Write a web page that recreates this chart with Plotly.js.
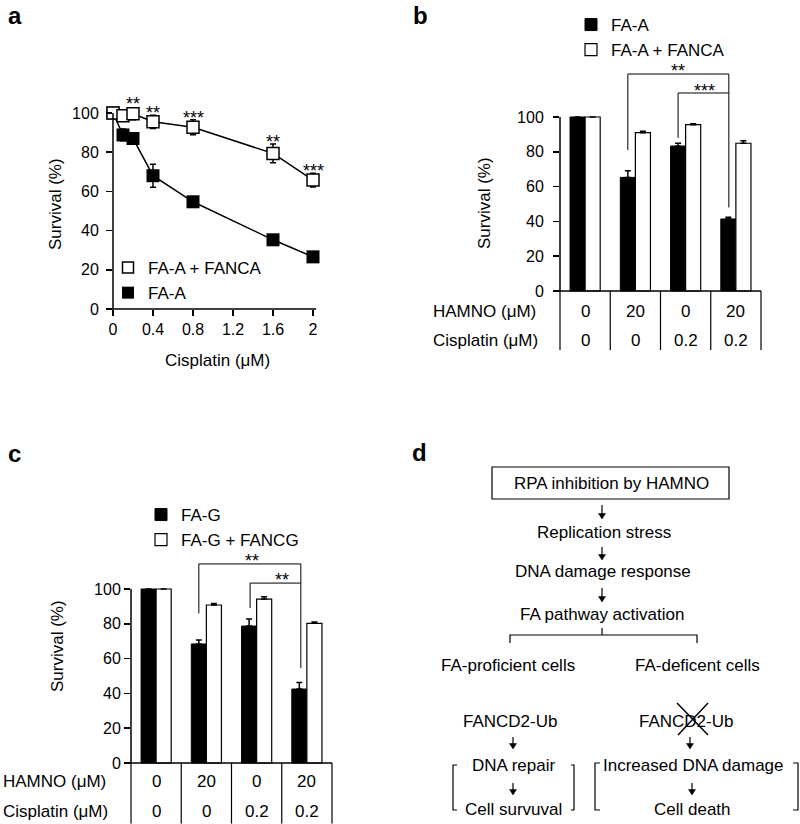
<!DOCTYPE html>
<html><head><meta charset="utf-8">
<script src="https://cdn.plot.ly/plotly-3.0.1.min.js"></script>
<style>html,body{margin:0;padding:0;background:#fff}#chart{width:800px;height:824px}</style>
</head><body><div id="chart"></div>
<script>
// ---------- DATA ----------
// Panel a: survival vs cisplatin dose
const doseA = [0, 0.1, 0.2, 0.4, 0.8, 1.6, 2];
const survFANCA_a = [100, 98.6, 99.6, 95.5, 92.7, 79.4, 65.8];
const errFANCA_a = [0, 1.5, 3, 3.4, 3.8, 4.8, 3.5];
const survFAA_a = [100, 88.8, 87, 68, 54.7, 35.3, 26.6];
const errFAA_a = [0, 3, 2, 5.9, 2, 2, 1.5];
const sigDoseA = [0.2, 0.4, 0.8, 1.6, 2];
const sigYA = [104.6, 99.8, 97.3, 85, 70.6];
const sigLabelA = ['**', '**', '***', '**', '***'];
const xTicksA = [0, 0.4, 0.8, 1.2, 1.6, 2];
const xTickTextA = ['0', '0.4', '0.8', '1.2', '1.6', '2'];
const yTicks = [0, 20, 40, 60, 80, 100];

// Panels b and c: four treatment groups
const groupIdx = [0, 1, 2, 3];
const hamno = ['0', '20', '0', '20'];
const cisplatin = ['0', '0', '0.2', '0.2'];
// Panel b
const survFAA_b = [100, 65.3, 83.3, 41.4];
const errFAA_b = [0, 3.8, 1.6, 1];
const survFANCA_b = [100, 91, 95.6, 84.9];
const errFANCA_b = [0, 0.8, 0.5, 1.5];
// Panel c
const survFAG_c = [100, 68.4, 78.7, 42.5];
const errFAG_c = [0, 2.3, 4, 3.7];
const survFANCG_c = [100, 90.8, 94.2, 80.3];
const errFANCG_c = [0, 0.9, 1.4, 0.7];

// ---------- HELPERS ----------
const F = 'Liberation Sans, Arial, Helvetica, sans-serif';
const W = 800, H = 824;
const px = x => x / W;
const py = y => 1 - y / H;
function dom(p0, v0, p1, v1, lo, hi, vertical) {
  const k = (p1 - p0) / (v1 - v0);
  const a = p0 + (lo - v0) * k, b = p0 + (hi - v0) * k;
  return vertical ? [py(a), py(b)] : [px(a), px(b)];
}
const zeros = arr => arr.map(() => 0);

const axBase = {
  showline: false, showgrid: false, zeroline: false, fixedrange: true,
  ticks: 'outside', ticklen: 6, tickwidth: 1.5, tickcolor: '#000',
  tickfont: {family: F, size: 16, color: '#000'}
};
const black = '#000';

// ranges
const xRangeA = [0, 2.03], yRangeA = [0, 112];
const xRangeB = [-0.5, 3.5], yRangeB = [-34, 135];
const xRangeC = [-0.5, 3.5], yRangeC = [-34.9, 125];

// ---------- TRACES ----------
const traces = [];
// panel a
traces.push({type: 'scatter', x: doseA, y: survFAA_a, mode: 'lines+markers', xaxis: 'x', yaxis: 'y',
  line: {color: black, width: 1.5}, marker: {symbol: 'square', size: 13, color: black},
  error_y: {type: 'data', array: errFAA_a, color: black, thickness: 1.5, width: 3},
  cliponaxis: false, showlegend: false, name: 'FA-A'});
traces.push({type: 'scatter', x: doseA, y: survFANCA_a, mode: 'lines+markers', xaxis: 'x', yaxis: 'y',
  line: {color: black, width: 1.5}, marker: {symbol: 'square', size: 12, color: '#fff', line: {color: black, width: 1.5}},
  error_y: {type: 'data', array: errFANCA_a, color: black, thickness: 1.5, width: 3},
  cliponaxis: false, showlegend: false, name: 'FA-A + FANCA'});
// legend-only entries for panel a (marker only)
traces.push({type: 'scatter', x: [null], y: [null], mode: 'markers', xaxis: 'x', yaxis: 'y', legend: 'legend',
  marker: {symbol: 'square', size: 11, color: '#fff', line: {color: black, width: 1.5}}, name: 'FA-A + FANCA'});
traces.push({type: 'scatter', x: [null], y: [null], mode: 'markers', xaxis: 'x', yaxis: 'y', legend: 'legend',
  marker: {symbol: 'square', size: 12, color: black}, name: 'FA-A'});
// panel b
traces.push({type: 'bar', x: groupIdx, y: survFAA_b, xaxis: 'x2', yaxis: 'y2', legend: 'legend2', name: 'FA-A',
  marker: {color: black, line: {color: black, width: 1}},
  error_y: {type: 'data', symmetric: false, array: errFAA_b, arrayminus: zeros(errFAA_b), color: black, thickness: 1.5, width: 3}});
traces.push({type: 'bar', x: groupIdx, y: survFANCA_b, xaxis: 'x2', yaxis: 'y2', legend: 'legend2', name: 'FA-A + FANCA',
  marker: {color: '#fff', line: {color: black, width: 1.2}},
  error_y: {type: 'data', symmetric: false, array: errFANCA_b, arrayminus: zeros(errFANCA_b), color: black, thickness: 1.5, width: 3}});
// panel c
traces.push({type: 'bar', x: groupIdx, y: survFAG_c, xaxis: 'x3', yaxis: 'y3', legend: 'legend3', name: 'FA-G',
  marker: {color: black, line: {color: black, width: 1}},
  error_y: {type: 'data', symmetric: false, array: errFAG_c, arrayminus: zeros(errFAG_c), color: black, thickness: 1.5, width: 3}});
traces.push({type: 'bar', x: groupIdx, y: survFANCG_c, xaxis: 'x3', yaxis: 'y3', legend: 'legend3', name: 'FA-G + FANCG',
  marker: {color: '#fff', line: {color: black, width: 1.2}},
  error_y: {type: 'data', symmetric: false, array: errFANCG_c, arrayminus: zeros(errFANCG_c), color: black, thickness: 1.5, width: 3}});

// ---------- SHAPES & ANNOTATIONS ----------
const shapes = [];
const ann = [];
const lineStyle = (w) => ({color: black, width: w || 1.5});
const txt = (o) => Object.assign({showarrow: false, xanchor: 'center', yanchor: 'middle'}, o);

// axis lines
shapes.push({type: 'line', xref: 'x domain', yref: 'y', x0: 0, x1: 0, y0: 0, y1: 100, line: lineStyle(1.5)});
shapes.push({type: 'line', xref: 'x domain', yref: 'y domain', x0: -0.025, x1: 1, y0: 0, y1: 0, line: lineStyle(1.5)});
shapes.push({type: 'line', xref: 'x2 domain', yref: 'y2', x0: 0, x1: 0, y0: 0, y1: 100, line: lineStyle(1.5)});
shapes.push({type: 'line', xref: 'x2 domain', yref: 'y2', x0: -0.025, x1: 1, y0: 0, y1: 0, line: lineStyle(1.5)});
shapes.push({type: 'line', xref: 'x3 domain', yref: 'y3', x0: 0, x1: 0, y0: 0, y1: 100, line: lineStyle(1.5)});
shapes.push({type: 'line', xref: 'x3 domain', yref: 'y3', x0: -0.025, x1: 1, y0: 0, y1: 0, line: lineStyle(1.5)});

// table dividers b/c
for (let k = 0; k <= 4; k++) {
  shapes.push({type: 'line', xref: 'x2 domain', yref: 'y2', x0: k / 4, x1: k / 4, y0: 0, y1: -34, line: lineStyle(1.2)});
  shapes.push({type: 'line', xref: 'x3 domain', yref: 'y3', x0: k / 4, x1: k / 4, y0: 0, y1: -34.9, line: lineStyle(1.2)});
}

// significance brackets
function bracket(xr, yr, xa, xb, ya, yb, ytop, label, lx, ly) {
  shapes.push({type: 'path', xref: xr, yref: yr,
    path: `M ${xa},${ya} L ${xa},${ytop} L ${xb},${ytop}` + (yb !== null ? ` L ${xb},${yb}` : ''),
    line: {color: black, width: 1}});
  ann.push(txt({xref: xr, yref: yr, x: lx, y: ly, text: label, font: {family: F, size: 18, color: black}}));
}
bracket('x2', 'y2', 0.85, 2.86, 81, 48, 124.7, '**', 1.85, 126.4);
bracket('x2', 'y2', 1.85, 2.86, 88, null, 113.8, '***', 2.37, 114.9);
bracket('x3', 'y3', 0.85, 2.88, 86, 54.6, 114.4, '**', 1.91, 116.1);
bracket('x3', 'y3', 1.87, 2.88, 89, null, 103.4, '**', 2.5, 105.2);

// significance in panel a
sigDoseA.forEach((d, i) => ann.push(txt({xref: 'x', yref: 'y', x: d, y: sigYA[i], text: sigLabelA[i],
  font: {family: F, size: 18, color: black}})));

// table text
const tf = {family: F, size: 17, color: black};
groupIdx.forEach(i => {
  ann.push(txt({xref: 'x2', yref: 'y2', x: i, y: -11.5, text: hamno[i], font: tf}));
  ann.push(txt({xref: 'x2', yref: 'y2', x: i, y: -28.2, text: cisplatin[i], font: tf}));
  ann.push(txt({xref: 'x3', yref: 'y3', x: i, y: -10.9, text: hamno[i], font: tf}));
  ann.push(txt({xref: 'x3', yref: 'y3', x: i, y: -27.6, text: cisplatin[i], font: tf}));
});
ann.push(txt({xref: 'paper', yref: 'y2', x: px(431), y: -11.5, xanchor: 'left', text: 'HAMNO (μM)', font: tf}));
ann.push(txt({xref: 'paper', yref: 'y2', x: px(431), y: -28.2, xanchor: 'left', text: 'Cisplatin (μM)', font: tf}));
ann.push(txt({xref: 'paper', yref: 'y3', x: px(1), y: -10.9, xanchor: 'left', text: 'HAMNO (μM)', font: tf}));
ann.push(txt({xref: 'paper', yref: 'y3', x: px(1), y: -27.6, xanchor: 'left', text: 'Cisplatin (μM)', font: tf}));

// axis titles
ann.push(txt({xref: 'paper', yref: 'paper', x: px(55), y: py(204), text: 'Survival (%)', textangle: -90, font: tf}));
ann.push(txt({xref: 'paper', yref: 'paper', x: px(217), y: py(360), text: 'Cisplatin (μM)', font: tf}));
ann.push(txt({xref: 'paper', yref: 'paper', x: px(485), y: py(203), text: 'Survival (%)', textangle: -90, font: tf}));
ann.push(txt({xref: 'paper', yref: 'paper', x: px(57), y: py(646), text: 'Survival (%)', textangle: -90, font: tf}));

// panel letters
const lf = {family: F, size: 24, color: black};
[['a', 6, 15], ['b', 411, 15], ['c', 6, 453], ['d', 410, 452]].forEach(([t, x, y]) =>
  ann.push(txt({xref: 'paper', yref: 'paper', x: px(x), y: py(y), xanchor: 'left', text: '<b>' + t + '</b>', font: lf})));

// ---------- PANEL d: flowchart ----------
function ptext(t, x, y) { ann.push(txt({xref: 'paper', yref: 'paper', x: px(x), y: py(y), text: t, font: tf})); }
function ppath(pts, w, fill) {
  const s = {type: 'path', xref: 'paper', yref: 'paper',
    path: pts.map((p, i) => (i ? 'L ' : 'M ') + px(p[0]) + ',' + py(p[1])).join(' ') + (fill ? ' Z' : ''),
    line: {color: black, width: w || 1.2}};
  if (fill) s.fillcolor = black;
  shapes.push(s);
}
function parrow(x, y0, y1) {
  ppath([[x, y0], [x, y1 - 4]], 1.2);
  ppath([[x - 3.5, y1 - 5.5], [x + 3.5, y1 - 5.5], [x, y1]], 0.5, true);
}
shapes.push({type: 'rect', xref: 'paper', yref: 'paper', x0: px(492), x1: px(729), y0: py(467), y1: py(499), line: {color: black, width: 1.2}});
ptext('RPA inhibition by HAMNO', 611, 484);
parrow(602, 505, 519);
ptext('Replication stress', 604, 532);
parrow(602, 547, 560);
ptext('DNA damage response', 603, 571);
parrow(602, 588, 602);
ptext('FA pathway activation', 602, 614);
ppath([[510, 643], [510, 635], [697, 635], [697, 643]]);
ppath([[602, 635], [602, 628]]);
ptext('FA-proficient cells', 508, 665);
ptext('FA-deficent cells', 697, 665);
ptext('FANCD2-Ub', 510, 721);
ptext('FANCD2-Ub', 686, 721);
ppath([[677, 703], [708, 735]], 1.5);
ppath([[708, 703], [678, 735]], 1.5);
parrow(513, 737, 749);
parrow(690, 737, 749);
ptext('DNA repair', 513, 765);
parrow(513, 783, 795);
ptext('Cell survuval', 513, 809);
ptext('Increased DNA damage', 693, 765);
parrow(692, 783, 795);
ptext('Cell death', 692, 809);
ppath([[457, 765], [453, 765], [453, 810], [457, 810]]);
ppath([[571, 765], [574, 765], [574, 810], [571, 810]]);
ppath([[600, 763], [595, 763], [595, 810], [600, 810]]);
ppath([[793, 763], [798, 763], [798, 810], [793, 810]]);

// ---------- LAYOUT ----------
const legendBase = {bgcolor: 'rgba(0,0,0,0)', borderwidth: 0, font: {family: F, size: 17, color: black},
  xanchor: 'left', yanchor: 'top', itemwidth: 30, tracegroupgap: 0, orientation: 'v'};

const layout = {
  width: W, height: H, margin: {l: 0, r: 0, t: 0, b: 0},
  paper_bgcolor: '#fff', plot_bgcolor: 'rgba(0,0,0,0)',
  font: {family: F, size: 16, color: black},
  barmode: 'group', bargap: 0.4, bargroupgap: 0,
  xaxis: Object.assign({}, axBase, {domain: dom(113, 0, 313, 2, xRangeA[0], xRangeA[1]), range: xRangeA,
    tickvals: xTicksA, ticktext: xTickTextA, anchor: 'y'}),
  yaxis: Object.assign({}, axBase, {domain: dom(309, 0, 113, 100, yRangeA[0], yRangeA[1], true), range: yRangeA,
    tickvals: yTicks, anchor: 'x', ticklabelstandoff: 4}),
  xaxis2: Object.assign({}, axBase, {domain: dom(560, -0.5, 761, 3.5, xRangeB[0], xRangeB[1]), range: xRangeB,
    showticklabels: false, ticks: '', anchor: 'y2'}),
  yaxis2: Object.assign({}, axBase, {domain: dom(291, 0, 117, 100, yRangeB[0], yRangeB[1], true), range: yRangeB,
    tickvals: yTicks, anchor: 'x2', ticklabelstandoff: 6}),
  xaxis3: Object.assign({}, axBase, {domain: dom(131, -0.5, 332, 3.5, xRangeC[0], xRangeC[1]), range: xRangeC,
    showticklabels: false, ticks: '', anchor: 'y3'}),
  yaxis3: Object.assign({}, axBase, {domain: dom(763, 0, 589, 100, yRangeC[0], yRangeC[1], true), range: yRangeC,
    tickvals: yTicks, anchor: 'x3'}),
  legend: Object.assign({}, legendBase, {x: px(108), y: py(250)}),
  legend2: Object.assign({}, legendBase, {x: px(571), y: py(7)}),
  legend3: Object.assign({}, legendBase, {x: px(141), y: py(497)}),
  shapes: shapes,
  annotations: ann,
  showlegend: true
};

Plotly.newPlot('chart', traces, layout, {displayModeBar: false, staticPlot: true});
</script>
</body></html>
